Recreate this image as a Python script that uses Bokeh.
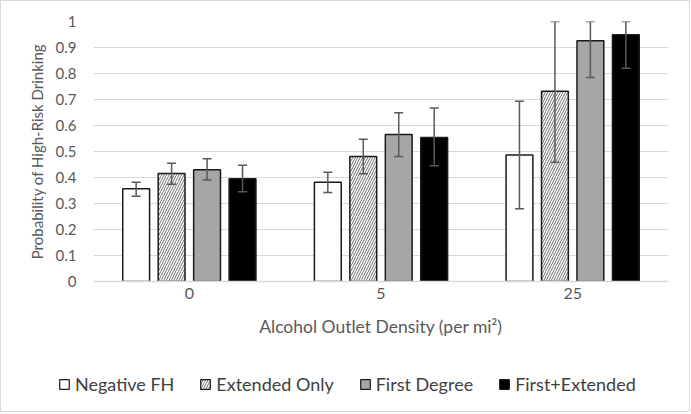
from bokeh.plotting import figure
from bokeh.models import (ColumnDataSource, FactorRange, Whisker, Legend, LegendItem,
                          FixedTicker, NumeralTickFormatter, Range1d)
from bokeh.layouts import column, row
from bokeh.transform import dodge
from bokeh.embed import file_html
from bokeh.resources import INLINE

# ---- data ----
categories = ["0", "5", "25"]
series_names = ["Negative FH", "Extended Only", "First Degree", "First+Extended"]

neg_fh = [0.357, 0.382, 0.487]
neg_fh_lo = [0.328, 0.342, 0.280]
neg_fh_hi = [0.382, 0.420, 0.693]

ext_only = [0.415, 0.481, 0.732]
ext_only_lo = [0.374, 0.414, 0.459]
ext_only_hi = [0.455, 0.547, 1.0]

first_deg = [0.430, 0.565, 0.926]
first_deg_lo = [0.390, 0.481, 0.785]
first_deg_hi = [0.472, 0.649, 1.0]

first_ext = [0.395, 0.554, 0.949]
first_ext_lo = [0.345, 0.445, 0.820]
first_ext_hi = [0.447, 0.667, 1.0]

y_ticks = [0, 0.1, 0.2, 0.3, 0.4, 0.5, 0.6, 0.7, 0.8, 0.9, 1.0]

FONT = "Lato"
TICK_COLOR = "#595959"
BAR_LINE = "#1a1a1a"

p = figure(x_range=FactorRange(*categories), y_range=Range1d(0, 1),
           frame_width=575, frame_height=260,
           min_border_left=92, min_border_right=21, min_border_top=20, min_border_bottom=66,
           output_backend="svg", toolbar_location=None, tools="")
p.outline_line_color = None
p.background_fill_color = "white"
p.border_fill_color = "white"

styles = [
    dict(fill_color="white"),
    dict(fill_color="white", hatch_pattern="/", hatch_color="#6e6e6e",
         hatch_scale=5, hatch_weight=1),
    dict(fill_color="#a6a6a6"),
    dict(fill_color="#000000"),
]
vals = [neg_fh, ext_only, first_deg, first_ext]
los = [neg_fh_lo, ext_only_lo, first_deg_lo, first_ext_lo]
his = [neg_fh_hi, ext_only_hi, first_deg_hi, first_ext_hi]
offsets = [-0.2775, -0.0925, 0.0925, 0.2775]

for v, lo, hi, off, st in zip(vals, los, his, offsets, styles):
    src = ColumnDataSource(dict(cat=categories, val=v, lo=lo, hi=hi))
    p.vbar(x=dodge("cat", off, range=p.x_range), top="val", width=0.14, source=src,
           line_color=BAR_LINE, line_width=1.5, **st)
    w = Whisker(base=dodge("cat", off, range=p.x_range), upper="hi", lower="lo", source=src,
                line_color="#595959", line_width=1.5, level="overlay")
    for head in (w.upper_head, w.lower_head):
        head.size = 9
        head.line_color = "#595959"
        head.line_width = 1.5
    p.add_layout(w)

# axes
p.yaxis.ticker = FixedTicker(ticks=y_ticks)
p.yaxis.formatter = NumeralTickFormatter(format="0.[0]")
p.yaxis.axis_line_color = None
p.yaxis.major_tick_line_color = None
p.yaxis.minor_tick_line_color = None
p.yaxis.major_label_standoff = 11
p.yaxis.axis_label = "Probability of High-Risk Drinking"
p.yaxis.axis_label_standoff = 7

p.xaxis.axis_label = "Alcohol Outlet Density (per mi\u00b2)"
p.xaxis.axis_line_color = "#d9d9d9"
p.xaxis.axis_line_width = 1.5
p.xaxis.major_tick_line_color = None
p.xaxis.minor_tick_line_color = None
p.xaxis.major_label_standoff = 0
p.xaxis.axis_label_standoff = 14

for ax, tick_size, label_size in ((p.xaxis, "16px", "17.5px"), (p.yaxis, "15px", "15px")):
    ax.major_label_text_font = FONT
    ax.major_label_text_font_size = tick_size
    ax.major_label_text_color = TICK_COLOR
    ax.axis_label_text_font = FONT
    ax.axis_label_text_font_size = label_size
    ax.axis_label_text_font_style = "normal"
    ax.axis_label_text_color = TICK_COLOR

p.xgrid.grid_line_color = None
p.ygrid.grid_line_color = "#d9d9d9"
p.ygrid.grid_line_width = 1

# ---- legend strip (its own small plot so the legend is not clipped) ----
# The proxy bars sit far below this strip's visible y range, so only their legend swatches show.
lp = figure(width=688, height=64, x_range=Range1d(0, 1), y_range=Range1d(5, 6),
            x_axis_type=None, y_axis_type=None,
            min_border_left=0, min_border_right=0, min_border_top=0, min_border_bottom=0,
            output_backend="svg", toolbar_location=None, tools="")
lp.outline_line_color = None
lp.xgrid.visible = False
lp.ygrid.visible = False
lp.border_fill_color = "white"
lp.background_fill_color = "white"

items = []
for name, v, st in zip(series_names, vals, styles):
    r = lp.vbar(x=[0.5], top=[v[0]], width=0.1, line_color=BAR_LINE, line_width=1.2, **st)
    items.append(LegendItem(label=name, renderers=[r]))

legend = Legend(items=items, orientation="horizontal", location=(57, 16),
                label_text_font=FONT, label_text_font_size="18px", label_text_color="#404040",
                glyph_width=12, glyph_height=12, label_standoff=5, spacing=25,
                padding=0, margin=0, border_line_color=None, background_fill_alpha=0)
lp.add_layout(legend, "center")

layout = column(p, row(lp), spacing=0, styles={"border": "1px solid #d9d9d9"})

open("out.html", "w").write(file_html(layout, INLINE))
